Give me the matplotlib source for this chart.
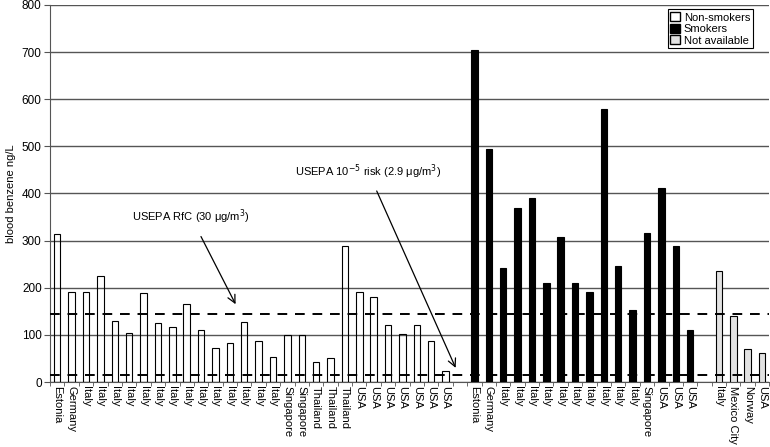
import matplotlib.pyplot as plt
import matplotlib.patches as mpatches
import numpy as np

plt.rcParams['font.family'] = ['Liberation Sans', 'DejaVu Sans']

# data (blood benzene, ng/L)
nonsmoker_labels = ['Estonia', 'Germany'] + ['Italy'] * 14 + ['Singapore'] * 2 + ['Thailand'] * 3 + ['USA'] * 7
nonsmoker_values = [313, 190, 190, 225, 130, 105, 188, 125, 116, 166, 110, 72, 83, 128, 87, 52,
                    99, 99, 43, 50, 288, 190, 181, 121, 101, 121, 87, 23]

smoker_labels = ['Estonia', 'Germany'] + ['Italy'] * 10 + ['Singapore'] + ['USA'] * 3
smoker_values = [705, 494, 241, 369, 391, 210, 308, 211, 191, 580, 246, 153, 316, 411, 289, 110]

na_labels = ['Italy', 'Mexico City', 'Norway', 'USA']
na_values = [235, 140, 70, 61]

rfc_level = 145      # USEPA RfC (30 ug/m3)
risk_level = 15      # USEPA 1e-5 risk (2.9 ug/m3)


def main():
    fig = plt.figure(figsize=(7.7, 4.47), dpi=100)
    ax = fig.add_axes([0.065, 0.1454, 0.934, 0.8436])

    # slot positions, one empty slot between groups
    n1, n2, n3 = len(nonsmoker_values), len(smoker_values), len(na_values)
    x1 = np.arange(n1)
    x2 = np.arange(n2) + n1 + 1
    x3 = np.arange(n3) + n1 + n2 + 2
    total = n1 + n2 + n3 + 2

    w = 0.45
    ax.bar(x1, nonsmoker_values, w, facecolor='none', edgecolor='black', linewidth=0.8, zorder=3)
    ax.bar(x2, smoker_values, w, color='black', edgecolor='black', linewidth=0.8, zorder=3)
    ax.bar(x3, na_values, w, color='#e2e2e2', edgecolor='black', linewidth=0.8, zorder=3)

    # horizontal gridlines
    ax.set_ylim(0, 800)
    ax.set_yticks(range(0, 801, 100))
    ax.yaxis.grid(True, color='#555555', linewidth=1.0, zorder=1)
    ax.set_axisbelow(True)

    # reference levels
    ax.axhline(rfc_level, color='black', linestyle=(0, (5, 4)), linewidth=1.4, zorder=4)
    ax.axhline(risk_level, color='black', linestyle=(0, (5, 4)), linewidth=1.4, zorder=4)

    ax.annotate('USEPA RfC (30 \u03bcg/m$^{3}$)', xy=(12.4, 165), xytext=(9.3, 350),
                ha='center', va='center', fontsize=8,
                arrowprops=dict(arrowstyle='->', color='black', linewidth=0.9,
                                mutation_scale=14, shrinkA=6, shrinkB=0))
    ax.annotate('USEPA 10$^{-5}$ risk (2.9 \u03bcg/m$^{3}$)', xy=(27.7, 30), xytext=(21.6, 447),
                ha='center', va='center', fontsize=8,
                arrowprops=dict(arrowstyle='->', color='black', linewidth=0.9,
                                mutation_scale=14, shrinkA=6, shrinkB=0))

    # category axis
    ax.set_xlim(-0.5, total - 0.5)
    ax.set_xticks(np.concatenate([x1, x2, x3]))
    ax.set_xticklabels(nonsmoker_labels + smoker_labels + na_labels, rotation=-90, fontsize=8)
    ax.tick_params(axis='x', length=0, pad=3)
    ax.set_xticks(np.arange(-0.5, total, 1), minor=True)
    ax.tick_params(axis='x', which='minor', length=3, color='#555555')
    ax.tick_params(axis='y', labelsize=8.5, length=4, pad=2, color='#555555')

    ax.set_ylabel('blood benzene ng/L', fontsize=8)
    ax.yaxis.set_label_coords(-0.048, 0.5)

    for spine in ['top', 'right']:
        ax.spines[spine].set_visible(False)
    ax.spines['left'].set_color('#555555')
    ax.spines['bottom'].set_color('#555555')

    handles = [mpatches.Patch(facecolor='white', edgecolor='black', label='Non-smokers'),
               mpatches.Patch(facecolor='black', edgecolor='black', label='Smokers'),
               mpatches.Patch(facecolor='#e2e2e2', edgecolor='black', label='Not available')]
    leg = ax.legend(handles=handles, loc='upper right', bbox_to_anchor=(0.982, 0.997),
                    fontsize=8, fancybox=False, framealpha=1, edgecolor='black',
                    handlelength=0.9, handleheight=0.9, handletextpad=0.3,
                    borderpad=0.25, labelspacing=0.1, borderaxespad=0.3)
    leg.get_frame().set_linewidth(0.8)
    leg.set_zorder(5)

    fig.savefig('out.png', dpi=100)


if __name__ == '__main__':
    main()
